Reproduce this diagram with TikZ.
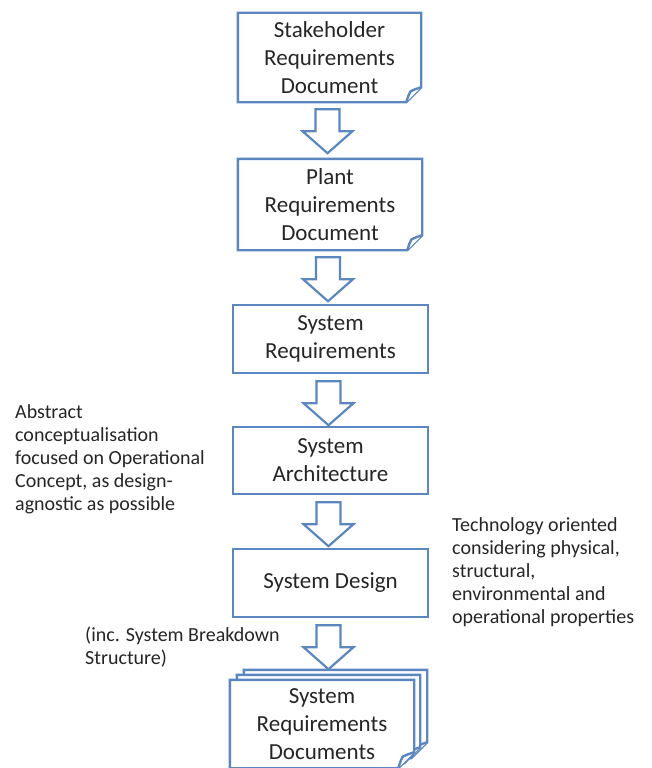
\documentclass[tikz,border=0pt]{standalone}
\usepackage{fontspec}
\setmainfont{Carlito}
\usetikzlibrary{calc}
\definecolor{boxblue}{HTML}{5B86C0}
\definecolor{txt}{HTML}{262626}
\tikzset{
  boxline/.style={draw=boxblue, line width=2.4pt, line join=miter},
  plainbox/.style={boxline, fill=white, inner sep=0pt, align=center, text=txt,
     font=\fontsize{23}{28}\selectfont},
  docbox/.style={draw=none, inner sep=0pt, align=center, text=txt,
     font=\fontsize{23}{28}\selectfont},
  blockarrow/.style={draw=boxblue, line width=2.2pt, fill=white, line join=miter},
  note/.style={anchor=north west, inner sep=0pt, align=left, text=txt,
     font=\fontsize{20}{23}\selectfont},
}
\newcommand\docpath[2]{% node name, fold size
  \draw[boxline, fill=white] (#1.north west) -- (#1.north east)
     -- ($(#1.south east)+(0,-#2)$) -- ($(#1.south east)+(-#2,0)$)
     -- (#1.south west) -- cycle;
  \draw[boxline, fill=white, line join=round] ($(#1.south east)+(-#2,0)$)
     .. controls ($(#1.south east)+(-0.85*#2,-0.45*#2)$) .. ($(#1.south east)+(-0.72*#2,-0.72*#2)$)
     .. controls ($(#1.south east)+(-0.45*#2,-0.85*#2)$) .. ($(#1.south east)+(0,-#2)$);
}
\newcommand\blkarrow[1]{%
  \draw[blockarrow] (#1.south) ++(-14,7) -- ++(24,0) -- ++(0,22) -- ++(13,0)
     -- ++(-25,22) -- ++(-25,-22) -- ++(13,0) -- cycle;
}
\begin{document}
\begin{tikzpicture}[x=1pt, y=-1pt]
\useasboundingbox[fill=white] (0,0) rectangle (652,768);

% document boxes
\node[docbox, minimum width=183pt, minimum height=89pt] (b1) at (329.5,57.5) {};
\docpath{b1}{15}
\node[docbox] at (b1.center) {Stakeholder\\Requirements\\Document};

\node[docbox, minimum width=184pt, minimum height=91pt] (b2) at (330,204.5) {};
\docpath{b2}{15}
\node[docbox] at (b2.center) {Plant\\Requirements\\Document};

\node[plainbox, minimum width=195pt, minimum height=68pt] (b3) at (330.5,339) {System\\Requirements};
\node[plainbox, minimum width=195pt, minimum height=67pt] (b4) at (330.5,460.5) {System\\Architecture};
\node[plainbox, minimum width=195pt, minimum height=68pt] (b5) at (330.5,583) {System Design};

% stacked documents
\node[docbox, minimum width=183pt, minimum height=88pt] (s3) at (335.5,714) {};
\node[docbox, minimum width=183pt, minimum height=88pt] (s2) at (328.5,719) {};
\node[docbox, minimum width=184pt, minimum height=88pt] (s1) at (322,724) {};
\docpath{s3}{16}
\docpath{s2}{16}
\docpath{s1}{16}
\node[docbox] at (s1.center) {System\\Requirements\\Documents};

% block arrows
\blkarrow{b1}
\blkarrow{b2}
\blkarrow{b3}
\blkarrow{b4}
\blkarrow{b5}

% notes
\node[note] (n1) at (15,404) {Abstract\\conceptualisation\\focused on Operational\\Concept, as design-\\agnostic as possible};
\node[note] (n2) at (452,517) {Technology oriented\\considering physical,\\structural,\\environmental and\\operational properties};
\node[note] (n3) at (85,627) {(inc. System Breakdown\\Structure)};
\end{tikzpicture}
\end{document}
